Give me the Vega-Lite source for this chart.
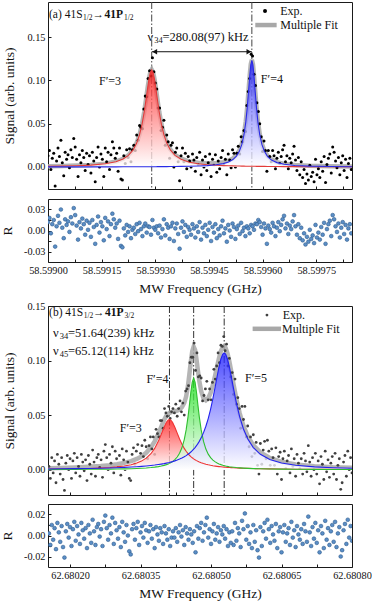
{
"$schema": "https://vega.github.io/schema/vega-lite/v6.json",
"background": "white",
"padding": {"left": 0, "top": 1, "right": 0, "bottom": 0},
"config": {
  "font": "Liberation Serif, Times New Roman, serif",
  "view": {"stroke": "#1a1a1a", "strokeWidth": 1},
  "axis": {"grid": false, "domain": false, "ticks": true, "tickColor": "#1a1a1a", "tickSize": -3, "tickWidth": 1, "labelFont": "Liberation Serif, Times New Roman, serif", "labelFontSize": 10.3, "labelColor": "#111", "labelPadding": 6, "labelOverlap": false, "labelFlush": false, "titleFont": "Liberation Serif, Times New Roman, serif", "titleFontSize": 13.5, "titleFontWeight": "normal", "titleColor": "#111"},
  "text": {"font": "Liberation Serif, Times New Roman, serif", "fontSize": 12, "color": "#111"}
},
"datasets": {
"expA": [
{"f":58.599000,"s":0.013,"r":0.012},{"f":58.599004,"s":0.019,"r":0.018},{"f":58.599008,"s":-0.003,"r":-0.004},{"f":58.599012,"s":0.010,"r":0.009},{"f":58.599016,"s":0.016,"r":0.015},{"f":58.599020,"s":-0.022,"r":-0.023},{"f":58.599024,"s":0.007,"r":0.006},{"f":58.599028,"s":0.022,"r":0.021},{"f":58.599032,"s":0.012,"r":0.011},{"f":58.599036,"s":0.031,"r":0.030},
{"f":58.599040,"s":0.005,"r":0.004},{"f":58.599044,"s":-0.010,"r":-0.011},{"f":58.599048,"s":0.017,"r":0.016},{"f":58.599052,"s":0.009,"r":0.008},{"f":58.599056,"s":0.014,"r":0.013},{"f":58.599060,"s":-0.001,"r":-0.002},{"f":58.599064,"s":0.020,"r":0.019},{"f":58.599068,"s":0.011,"r":0.010},{"f":58.599072,"s":0.033,"r":0.032},{"f":58.599076,"s":0.023,"r":0.022},
{"f":58.599080,"s":0.009,"r":0.007},{"f":58.599084,"s":-0.011,"r":-0.013},{"f":58.599088,"s":0.014,"r":0.012},{"f":58.599092,"s":0.005,"r":0.003},{"f":58.599096,"s":0.019,"r":0.017},{"f":58.599100,"s":0.011,"r":0.009},{"f":58.599104,"s":-0.004,"r":-0.006},{"f":58.599108,"s":0.016,"r":0.014},{"f":58.599112,"s":0.003,"r":0.001},{"f":58.599116,"s":0.013,"r":0.011},
{"f":58.599120,"s":-0.007,"r":-0.009},{"f":58.599124,"s":0.017,"r":0.015},{"f":58.599128,"s":0.007,"r":0.005},{"f":58.599132,"s":-0.017,"r":-0.019},{"f":58.599136,"s":0.011,"r":0.008},{"f":58.599140,"s":0.023,"r":0.020},{"f":58.599144,"s":0.000,"r":-0.003},{"f":58.599148,"s":0.015,"r":0.012},{"f":58.599152,"s":0.009,"r":0.006},{"f":58.599156,"s":-0.011,"r":-0.014},
{"f":58.599160,"s":0.022,"r":0.018},{"f":58.599164,"s":0.006,"r":0.002},{"f":58.599168,"s":0.017,"r":0.013},{"f":58.599172,"s":-0.003,"r":-0.008},{"f":58.599176,"s":0.014,"r":0.009},{"f":58.599180,"s":0.029,"r":0.024},{"f":58.599184,"s":0.022,"r":0.016},{"f":58.599188,"s":0.010,"r":0.004},{"f":58.599192,"s":0.016,"r":0.010},{"f":58.599196,"s":-0.005,"r":-0.012},
{"f":58.599200,"s":0.022,"r":0.014},{"f":58.599204,"s":-0.014,"r":-0.022},{"f":58.599208,"s":-0.015,"r":-0.024},{"f":58.599212,"s":0.013,"r":0.003},{"f":58.599216,"s":0.004,"r":-0.007},{"f":58.599220,"s":0.020,"r":0.008},{"f":58.599224,"s":0.011,"r":-0.002},{"f":58.599228,"s":0.021,"r":0.006},{"f":58.599232,"s":0.006,"r":-0.011},{"f":58.599236,"s":0.020,"r":0.001},
{"f":58.599240,"s":0.025,"r":0.004},{"f":58.599244,"s":0.019,"r":-0.005},{"f":58.599248,"s":0.037,"r":0.009},{"f":58.599252,"s":0.031,"r":-0.001},{"f":58.599256,"s":0.048,"r":0.011},{"f":58.599260,"s":0.046,"r":0.002},{"f":58.599264,"s":0.044,"r":-0.008},{"f":58.599268,"s":0.067,"r":0.006},{"f":58.599272,"s":0.082,"r":0.010},{"f":58.599276,"s":0.081,"r":-0.003},
{"f":58.599280,"s":0.102,"r":0.006},{"f":58.599284,"s":0.111,"r":0.005},{"f":58.599288,"s":0.105,"r":-0.006},{"f":58.599292,"s":0.126,"r":0.015},{"f":58.599296,"s":0.110,"r":0.004},{"f":58.599300,"s":0.097,"r":0.001},{"f":58.599304,"s":0.090,"r":0.006},{"f":58.599308,"s":0.068,"r":-0.004},{"f":58.599312,"s":0.068,"r":0.007},{"f":58.599316,"s":0.042,"r":-0.010},
{"f":58.599320,"s":0.046,"r":0.002},{"f":58.599324,"s":0.054,"r":0.016},{"f":58.599328,"s":0.025,"r":-0.007},{"f":58.599332,"s":0.037,"r":0.009},{"f":58.599336,"s":0.029,"r":0.004},{"f":58.599340,"s":0.010,"r":-0.012},{"f":58.599344,"s":0.025,"r":0.006},{"f":58.599348,"s":0.028,"r":0.011},{"f":58.599352,"s":0.000,"r":-0.015},{"f":58.599356,"s":0.017,"r":0.003},
{"f":58.599360,"s":0.022,"r":0.010},{"f":58.599364,"s":0.006,"r":-0.005},{"f":58.599368,"s":-0.016,"r":-0.026},{"f":58.599372,"s":0.013,"r":0.004},{"f":58.599376,"s":0.022,"r":0.013},{"f":58.599380,"s":0.006,"r":-0.002},{"f":58.599384,"s":0.016,"r":0.008},{"f":58.599388,"s":-0.002,"r":-0.009},{"f":58.599392,"s":0.012,"r":0.005},{"f":58.599396,"s":0.007,"r":0.001},
{"f":58.599400,"s":0.000,"r":-0.006},{"f":58.599404,"s":0.015,"r":0.009},{"f":58.599408,"s":0.008,"r":0.003},{"f":58.599412,"s":-0.005,"r":-0.010},{"f":58.599416,"s":0.011,"r":0.006},{"f":58.599420,"s":0.003,"r":-0.002},{"f":58.599424,"s":0.017,"r":0.012},{"f":58.599428,"s":-0.009,"r":-0.013},{"f":58.599432,"s":0.008,"r":0.004},{"f":58.599436,"s":0.000,"r":-0.004},
{"f":58.599440,"s":0.012,"r":0.008},{"f":58.599444,"s":-0.004,"r":-0.008},{"f":58.599448,"s":0.005,"r":0.001},{"f":58.599452,"s":0.015,"r":0.011},{"f":58.599456,"s":-0.011,"r":-0.015},{"f":58.599460,"s":0.009,"r":0.005},{"f":58.599464,"s":0.002,"r":-0.003},{"f":58.599468,"s":0.014,"r":0.009},{"f":58.599472,"s":-0.006,"r":-0.011},{"f":58.599476,"s":0.007,"r":0.002},
{"f":58.599480,"s":-0.002,"r":-0.007},{"f":58.599484,"s":0.011,"r":0.006},{"f":58.599488,"s":0.019,"r":0.014},{"f":58.599492,"s":0.002,"r":-0.004},{"f":58.599496,"s":0.009,"r":0.003},{"f":58.599500,"s":-0.009,"r":-0.016},{"f":58.599504,"s":0.015,"r":0.008},{"f":58.599508,"s":0.008,"r":0.000},{"f":58.599512,"s":-0.001,"r":-0.009},{"f":58.599516,"s":0.020,"r":0.010},
{"f":58.599520,"s":0.016,"r":0.005},{"f":58.599524,"s":0.000,"r":-0.012},{"f":58.599528,"s":0.016,"r":0.002},{"f":58.599532,"s":0.024,"r":0.007},{"f":58.599536,"s":0.015,"r":-0.005},{"f":58.599540,"s":0.035,"r":0.011},{"f":58.599544,"s":0.029,"r":-0.001},{"f":58.599548,"s":0.042,"r":0.004},{"f":58.599552,"s":0.041,"r":-0.008},{"f":58.599556,"s":0.071,"r":0.006},
{"f":58.599560,"s":0.087,"r":0.003},{"f":58.599564,"s":0.102,"r":-0.004},{"f":58.599568,"s":0.130,"r":0.008},{"f":58.599572,"s":0.128,"r":0.006},{"f":58.599576,"s":0.107,"r":0.001},{"f":58.599580,"s":0.094,"r":0.010},{"f":58.599584,"s":0.074,"r":0.009},{"f":58.599588,"s":0.064,"r":0.015},{"f":58.599592,"s":0.050,"r":0.012},{"f":58.599596,"s":0.035,"r":0.005},
{"f":58.599600,"s":0.018,"r":-0.006},{"f":58.599604,"s":0.030,"r":0.010},{"f":58.599608,"s":0.019,"r":0.003},{"f":58.599612,"s":-0.005,"r":-0.019},{"f":58.599616,"s":0.019,"r":0.007},{"f":58.599620,"s":0.012,"r":0.002},{"f":58.599624,"s":0.006,"r":-0.003},{"f":58.599628,"s":0.019,"r":0.011},{"f":58.599632,"s":0.013,"r":0.006},{"f":58.599636,"s":-0.002,"r":-0.008},
{"f":58.599640,"s":0.010,"r":0.004},{"f":58.599644,"s":0.017,"r":0.012},{"f":58.599648,"s":0.004,"r":-0.001},{"f":58.599652,"s":0.012,"r":0.008},{"f":58.599656,"s":0.020,"r":0.016},{"f":58.599660,"s":0.025,"r":0.021},{"f":58.599664,"s":0.006,"r":0.003},{"f":58.599668,"s":0.013,"r":0.010},{"f":58.599672,"s":-0.002,"r":-0.005},{"f":58.599676,"s":0.010,"r":0.007},
{"f":58.599680,"s":0.005,"r":0.002},{"f":58.599684,"s":0.015,"r":0.013},{"f":58.599688,"s":0.024,"r":0.022},{"f":58.599692,"s":0.008,"r":0.006},{"f":58.599696,"s":-0.004,"r":-0.006},{"f":58.599700,"s":0.011,"r":0.009},{"f":58.599704,"s":-0.009,"r":-0.011},{"f":58.599708,"s":0.006,"r":0.004},{"f":58.599712,"s":-0.012,"r":-0.014},{"f":58.599716,"s":-0.003,"r":-0.004},
{"f":58.599720,"s":-0.019,"r":-0.020},{"f":58.599724,"s":-0.008,"r":-0.009},{"f":58.599728,"s":-0.015,"r":-0.016},{"f":58.599732,"s":0.002,"r":0.001},{"f":58.599736,"s":-0.011,"r":-0.012},{"f":58.599740,"s":-0.006,"r":-0.007},{"f":58.599744,"s":-0.017,"r":-0.018},{"f":58.599748,"s":0.009,"r":0.008},{"f":58.599752,"s":-0.009,"r":-0.010},{"f":58.599756,"s":-0.002,"r":-0.003},
{"f":58.599760,"s":-0.012,"r":-0.013},{"f":58.599764,"s":0.006,"r":0.005},{"f":58.599768,"s":-0.005,"r":-0.006},{"f":58.599772,"s":0.012,"r":0.011},{"f":58.599776,"s":-0.018,"r":-0.019},{"f":58.599780,"s":0.003,"r":0.002},{"f":58.599784,"s":0.010,"r":0.009},{"f":58.599788,"s":0.015,"r":0.014},{"f":58.599792,"s":-0.007,"r":-0.008},{"f":58.599796,"s":0.023,"r":0.022},
{"f":58.599800,"s":0.017,"r":0.016},{"f":58.599804,"s":0.007,"r":0.006},{"f":58.599808,"s":-0.001,"r":-0.002},{"f":58.599812,"s":0.011,"r":0.010},{"f":58.599816,"s":-0.009,"r":-0.010},{"f":58.599820,"s":0.005,"r":0.004},{"f":58.599824,"s":0.013,"r":0.012},{"f":58.599828,"s":-0.004,"r":-0.005},{"f":58.599832,"s":0.009,"r":0.008},{"f":58.599836,"s":-0.012,"r":-0.013},
{"f":58.599840,"s":0.004,"r":0.003},{"f":58.599844,"s":0.010,"r":0.009},{"f":58.599848,"s":-0.003,"r":-0.004}
],
"fitA": [
{"f":58.599000,"F3":0.00076,"F4":0.00008,"fit":0.0008},{"f":58.599040,"F3":0.00102,"F4":0.00009,"fit":0.0011},{"f":58.599080,"F3":0.00144,"F4":0.00011,"fit":0.0016},{"f":58.599120,"F3":0.00219,"F4":0.00013,"fit":0.0023},{"f":58.599160,"F3":0.00369,"F4":0.00015,"fit":0.0038},{"f":58.599190,"F3":0.0061,"F4":0.00018,"fit":0.0063},{"f":58.599210,"F3":0.00925,"F4":0.0002,"fit":0.0095},{"f":58.599225,"F3":0.01344,"F4":0.00022,"fit":0.0137},{"f":58.599238,"F3":0.01967,"F4":0.00023,"fit":0.0199},{"f":58.599248,"F3":0.02757,"F4":0.00025,"fit":0.0278},
{"f":58.599256,"F3":0.03725,"F4":0.00026,"fit":0.0375},{"f":58.599263,"F3":0.04943,"F4":0.00027,"fit":0.0497},{"f":58.599269,"F3":0.06343,"F4":0.00028,"fit":0.0637},{"f":58.599274,"F3":0.07754,"F4":0.00029,"fit":0.0778},{"f":58.599278,"F3":0.0896,"F4":0.0003,"fit":0.0899},{"f":58.599282,"F3":0.1008,"F4":0.0003,"fit":0.1011},{"f":58.599286,"F3":0.10897,"F4":0.0003,"fit":0.1093},{"f":58.599290,"F3":0.112,"F4":0.00033,"fit":0.1123},{"f":58.599294,"F3":0.10897,"F4":0.00034,"fit":0.1093},{"f":58.599298,"F3":0.1008,"F4":0.00035,"fit":0.1012},
{"f":58.599302,"F3":0.0896,"F4":0.00036,"fit":0.0900},{"f":58.599306,"F3":0.07754,"F4":0.00037,"fit":0.0779},{"f":58.599311,"F3":0.06343,"F4":0.00038,"fit":0.0638},{"f":58.599317,"F3":0.04943,"F4":0.0004,"fit":0.0498},{"f":58.599324,"F3":0.03725,"F4":0.00043,"fit":0.0377},{"f":58.599332,"F3":0.02757,"F4":0.00045,"fit":0.0280},{"f":58.599342,"F3":0.01967,"F4":0.0005,"fit":0.0202},{"f":58.599355,"F3":0.01344,"F4":0.00056,"fit":0.0140},{"f":58.599372,"F3":0.00884,"F4":0.00066,"fit":0.0095},{"f":58.599395,"F3":0.00556,"F4":0.00084,"fit":0.0064},
{"f":58.599420,"F3":0.00369,"F4":0.00114,"fit":0.0048},{"f":58.599445,"F3":0.00262,"F4":0.00163,"fit":0.0043},{"f":58.599470,"F3":0.00196,"F4":0.00253,"fit":0.0045},{"f":58.599490,"F3":0.00159,"F4":0.00391,"fit":0.0055},{"f":58.599505,"F3":0.00138,"F4":0.00583,"fit":0.0072},{"f":58.599517,"F3":0.00124,"F4":0.00857,"fit":0.0098},{"f":58.599527,"F3":0.00114,"F4":0.01256,"fit":0.0137},{"f":58.599535,"F3":0.00107,"F4":0.01802,"fit":0.0191},{"f":58.599542,"F3":0.00101,"F4":0.02601,"fit":0.0270},{"f":58.599548,"F3":0.00097,"F4":0.03725,"fit":0.0382},
{"f":58.599553,"F3":0.00093,"F4":0.0518,"fit":0.0527},{"f":58.599557,"F3":0.0009,"F4":0.06819,"fit":0.0691},{"f":58.599561,"F3":0.00088,"F4":0.08879,"fit":0.0897},{"f":58.599564,"F3":0.00087,"F4":0.10502,"fit":0.1059},{"f":58.599567,"F3":0.00085,"F4":0.11795,"fit":0.1188},{"f":58.599570,"F3":0.00082,"F4":0.123,"fit":0.1238},{"f":58.599573,"F3":0.0008,"F4":0.11795,"fit":0.1188},{"f":58.599576,"F3":0.00079,"F4":0.10502,"fit":0.1058},{"f":58.599579,"F3":0.00078,"F4":0.08879,"fit":0.0896},{"f":58.599583,"F3":0.00076,"F4":0.06819,"fit":0.0690},
{"f":58.599587,"F3":0.00075,"F4":0.0518,"fit":0.0526},{"f":58.599592,"F3":0.00075,"F4":0.03725,"fit":0.0380},{"f":58.599598,"F3":0.00072,"F4":0.02601,"fit":0.0267},{"f":58.599605,"F3":0.0007,"F4":0.01802,"fit":0.0187},{"f":58.599614,"F3":0.00061,"F4":0.01205,"fit":0.0127},{"f":58.599625,"F3":0.00057,"F4":0.00799,"fit":0.0086},{"f":58.599640,"F3":0.00052,"F4":0.00506,"fit":0.0056},{"f":58.599660,"F3":0.00047,"F4":0.00311,"fit":0.0036},{"f":58.599690,"F3":0.0004,"F4":0.00177,"fit":0.0022},{"f":58.599730,"F3":0.00033,"F4":0.001,"fit":0.0013},
{"f":58.599790,"F3":0.00026,"F4":0.00053,"fit":0.0008},{"f":58.599850,"F3":0.00021,"F4":0.00033,"fit":0.0005}
],
"expB": [
{"f":62.680155,"s":0.003,"r":0.002},{"f":62.680158,"s":-0.008,"r":-0.009},{"f":62.680161,"s":0.011,"r":0.010},{"f":62.680164,"s":-0.003,"r":-0.004},{"f":62.680167,"s":0.008,"r":0.007},{"f":62.680170,"s":-0.012,"r":-0.013},{"f":62.680173,"s":0.014,"r":0.012},{"f":62.680176,"s":0.005,"r":0.003},{"f":62.680179,"s":-0.004,"r":-0.006},{"f":62.680182,"s":0.011,"r":0.009},
{"f":62.680185,"s":-0.009,"r":-0.011},{"f":62.680188,"s":-0.019,"r":-0.021},{"f":62.680191,"s":0.006,"r":0.004},{"f":62.680194,"s":0.013,"r":0.011},{"f":62.680197,"s":0.000,"r":-0.002},{"f":62.680200,"s":0.010,"r":0.008},{"f":62.680203,"s":-0.008,"r":-0.010},{"f":62.680206,"s":0.008,"r":0.006},{"f":62.680209,"s":0.015,"r":0.013},{"f":62.680212,"s":-0.003,"r":-0.005},
{"f":62.680215,"s":0.011,"r":0.009},{"f":62.680218,"s":0.003,"r":0.001},{"f":62.680221,"s":-0.006,"r":-0.008},{"f":62.680224,"s":0.014,"r":0.012},{"f":62.680227,"s":0.007,"r":0.005},{"f":62.680230,"s":-0.001,"r":-0.003},{"f":62.680233,"s":0.009,"r":0.007},{"f":62.680236,"s":-0.010,"r":-0.012},{"f":62.680239,"s":0.013,"r":0.010},{"f":62.680242,"s":0.005,"r":0.002},
{"f":62.680245,"s":-0.004,"r":-0.007},{"f":62.680248,"s":0.018,"r":0.015},{"f":62.680251,"s":0.007,"r":0.004},{"f":62.680254,"s":-0.006,"r":-0.009},{"f":62.680257,"s":0.011,"r":0.008},{"f":62.680260,"s":0.014,"r":0.011},{"f":62.680263,"s":0.002,"r":-0.001},{"f":62.680266,"s":0.009,"r":0.006},{"f":62.680269,"s":-0.007,"r":-0.010},{"f":62.680272,"s":0.017,"r":0.013},
{"f":62.680275,"s":0.023,"r":0.019},{"f":62.680278,"s":0.011,"r":0.007},{"f":62.680281,"s":0.000,"r":-0.004},{"f":62.680284,"s":0.014,"r":0.010},{"f":62.680287,"s":0.006,"r":0.002},{"f":62.680290,"s":0.021,"r":0.017},{"f":62.680293,"s":-0.003,"r":-0.008},{"f":62.680296,"s":0.017,"r":0.012},{"f":62.680299,"s":0.010,"r":0.005},{"f":62.680302,"s":0.002,"r":-0.003},
{"f":62.680305,"s":0.013,"r":0.008},{"f":62.680308,"s":-0.005,"r":-0.011},{"f":62.680311,"s":0.019,"r":0.013},{"f":62.680314,"s":0.009,"r":0.003},{"f":62.680317,"s":0.000,"r":-0.006},{"f":62.680320,"s":0.017,"r":0.010},{"f":62.680323,"s":0.007,"r":0.000},{"f":62.680326,"s":-0.008,"r":-0.015},{"f":62.680329,"s":-0.010,"r":-0.018},{"f":62.680332,"s":0.014,"r":0.006},
{"f":62.680335,"s":0.020,"r":0.011},{"f":62.680338,"s":0.005,"r":-0.004},{"f":62.680341,"s":0.017,"r":0.007},{"f":62.680344,"s":0.023,"r":0.013},{"f":62.680347,"s":0.002,"r":-0.009},{"f":62.680350,"s":0.015,"r":0.003},{"f":62.680353,"s":0.022,"r":0.009},{"f":62.680356,"s":0.012,"r":-0.002},{"f":62.680359,"s":0.027,"r":0.012},{"f":62.680362,"s":0.021,"r":0.005},
{"f":62.680365,"s":0.010,"r":-0.007},{"f":62.680368,"s":0.022,"r":0.004},{"f":62.680371,"s":0.030,"r":0.010},{"f":62.680374,"s":0.019,"r":-0.003},{"f":62.680377,"s":0.030,"r":0.006},{"f":62.680380,"s":0.014,"r":-0.012},{"f":62.680383,"s":0.037,"r":0.008},{"f":62.680386,"s":0.033,"r":0.001},{"f":62.680389,"s":0.030,"r":-0.005},{"f":62.680392,"s":0.045,"r":0.007},
{"f":62.680395,"s":0.045,"r":0.003},{"f":62.680398,"s":0.038,"r":-0.008},{"f":62.680401,"s":0.056,"r":0.009},{"f":62.680404,"s":0.052,"r":0.002},{"f":62.680407,"s":0.049,"r":-0.004},{"f":62.680410,"s":0.058,"r":0.006},{"f":62.680413,"s":0.047,"r":-0.010},{"f":62.680416,"s":0.053,"r":-0.002},{"f":62.680419,"s":0.056,"r":0.004},{"f":62.680422,"s":0.052,"r":-0.002},
{"f":62.680425,"s":0.060,"r":0.007},{"f":62.680428,"s":0.049,"r":-0.006},{"f":62.680431,"s":0.056,"r":0.003},{"f":62.680434,"s":0.063,"r":0.010},{"f":62.680437,"s":0.053,"r":-0.001},{"f":62.680440,"s":0.061,"r":0.005},{"f":62.680443,"s":0.050,"r":-0.009},{"f":62.680446,"s":0.072,"r":0.008},{"f":62.680449,"s":0.074,"r":0.002},{"f":62.680452,"s":0.077,"r":-0.004},
{"f":62.680455,"s":0.098,"r":0.006},{"f":62.680458,"s":0.103,"r":0.001},{"f":62.680461,"s":0.103,"r":-0.007},{"f":62.680464,"s":0.116,"r":0.004},{"f":62.680467,"s":0.091,"r":-0.016},{"f":62.680470,"s":0.107,"r":0.009},{"f":62.680473,"s":0.085,"r":-0.003},{"f":62.680476,"s":0.086,"r":0.007},{"f":62.680479,"s":0.084,"r":0.012},{"f":62.680482,"s":0.063,"r":-0.005},
{"f":62.680485,"s":0.068,"r":0.003},{"f":62.680488,"s":0.074,"r":0.010},{"f":62.680491,"s":0.081,"r":0.017},{"f":62.680494,"s":0.064,"r":-0.002},{"f":62.680497,"s":0.074,"r":0.006},{"f":62.680500,"s":0.064,"r":-0.008},{"f":62.680503,"s":0.080,"r":0.004},{"f":62.680506,"s":0.092,"r":0.011},{"f":62.680509,"s":0.083,"r":-0.004},{"f":62.680512,"s":0.095,"r":0.002},
{"f":62.680515,"s":0.107,"r":0.008},{"f":62.680518,"s":0.098,"r":-0.006},{"f":62.680521,"s":0.114,"r":0.005},{"f":62.680524,"s":0.113,"r":0.001},{"f":62.680527,"s":0.122,"r":0.009},{"f":62.680530,"s":0.109,"r":-0.003},{"f":62.680533,"s":0.115,"r":0.006},{"f":62.680536,"s":0.095,"r":-0.010},{"f":62.680539,"s":0.102,"r":0.003},{"f":62.680542,"s":0.085,"r":-0.007},
{"f":62.680545,"s":0.089,"r":0.004},{"f":62.680548,"s":0.069,"r":-0.009},{"f":62.680551,"s":0.083,"r":0.012},{"f":62.680554,"s":0.060,"r":-0.005},{"f":62.680557,"s":0.066,"r":0.007},{"f":62.680560,"s":0.056,"r":0.002},{"f":62.680563,"s":0.038,"r":-0.011},{"f":62.680566,"s":0.058,"r":0.014},{"f":62.680569,"s":0.046,"r":0.006},{"f":62.680572,"s":0.058,"r":0.021},
{"f":62.680575,"s":0.030,"r":-0.004},{"f":62.680578,"s":0.040,"r":0.009},{"f":62.680581,"s":0.021,"r":-0.008},{"f":62.680584,"s":0.030,"r":0.003},{"f":62.680587,"s":0.012,"r":-0.012},{"f":62.680590,"s":0.032,"r":0.010},{"f":62.680593,"s":0.015,"r":-0.006},{"f":62.680596,"s":0.025,"r":0.005},{"f":62.680599,"s":0.004,"r":-0.014},{"f":62.680602,"s":-0.004,"r":-0.021},
{"f":62.680605,"s":0.024,"r":0.008},{"f":62.680608,"s":0.005,"r":-0.010},{"f":62.680611,"s":0.018,"r":0.004},{"f":62.680614,"s":0.026,"r":0.012},{"f":62.680617,"s":0.010,"r":-0.003},{"f":62.680620,"s":0.027,"r":0.015},{"f":62.680623,"s":0.017,"r":0.006},{"f":62.680626,"s":0.004,"r":-0.007},{"f":62.680629,"s":0.019,"r":0.009},{"f":62.680632,"s":0.011,"r":0.001},
{"f":62.680635,"s":0.004,"r":-0.005},{"f":62.680638,"s":0.020,"r":0.011},{"f":62.680641,"s":-0.004,"r":-0.012},{"f":62.680644,"s":0.012,"r":0.004},{"f":62.680647,"s":0.016,"r":0.008},{"f":62.680650,"s":-0.009,"r":-0.016},{"f":62.680653,"s":0.010,"r":0.003},{"f":62.680656,"s":0.017,"r":0.010},{"f":62.680659,"s":0.001,"r":-0.006},{"f":62.680662,"s":0.008,"r":0.002},
{"f":62.680665,"s":0.013,"r":0.007},{"f":62.680668,"s":-0.003,"r":-0.009},{"f":62.680671,"s":0.019,"r":0.013},{"f":62.680674,"s":0.003,"r":-0.002},{"f":62.680677,"s":0.010,"r":0.005},{"f":62.680680,"s":-0.006,"r":-0.011},{"f":62.680683,"s":0.014,"r":0.009},{"f":62.680686,"s":0.006,"r":0.001},{"f":62.680689,"s":0.001,"r":-0.004},{"f":62.680692,"s":0.010,"r":0.006},
{"f":62.680695,"s":-0.004,"r":-0.008},{"f":62.680698,"s":0.015,"r":0.011},{"f":62.680701,"s":0.008,"r":0.004},{"f":62.680704,"s":-0.002,"r":-0.006},{"f":62.680707,"s":0.022,"r":0.018},{"f":62.680710,"s":0.007,"r":0.003},{"f":62.680713,"s":-0.006,"r":-0.010},{"f":62.680716,"s":0.011,"r":0.008},{"f":62.680719,"s":0.000,"r":-0.003},{"f":62.680722,"s":0.015,"r":0.012},
{"f":62.680725,"s":-0.004,"r":-0.007},{"f":62.680728,"s":0.008,"r":0.005},{"f":62.680731,"s":-0.013,"r":-0.016},{"f":62.680734,"s":0.012,"r":0.009},{"f":62.680737,"s":0.005,"r":0.002},{"f":62.680740,"s":-0.009,"r":-0.012},{"f":62.680743,"s":0.017,"r":0.014},{"f":62.680746,"s":-0.002,"r":-0.004},{"f":62.680749,"s":0.009,"r":0.007},{"f":62.680752,"s":-0.007,"r":-0.009},
{"f":62.680755,"s":0.006,"r":0.004},{"f":62.680758,"s":0.012,"r":0.010},{"f":62.680761,"s":-0.004,"r":-0.006},{"f":62.680764,"s":0.015,"r":0.013},{"f":62.680767,"s":-0.009,"r":-0.011},{"f":62.680770,"s":0.004,"r":0.002},{"f":62.680773,"s":0.010,"r":0.008},{"f":62.680776,"s":-0.018,"r":-0.020},{"f":62.680779,"s":-0.012,"r":-0.014},{"f":62.680782,"s":0.007,"r":0.005},
{"f":62.680785,"s":0.013,"r":0.011},{"f":62.680788,"s":-0.006,"r":-0.008},{"f":62.680791,"s":0.017,"r":0.015},{"f":62.680794,"s":0.000,"r":-0.002},{"f":62.680797,"s":0.011,"r":0.009},{"f":62.680800,"s":-0.003,"r":-0.005}
],
"fitB": [
{"f":62.680153,"F3":0.0005,"F4":0.00017,"F5":0.00068,"fit":0.0013},{"f":62.680180,"F3":0.00062,"F4":0.0002,"F5":0.00079,"fit":0.0016},{"f":62.680210,"F3":0.00081,"F4":0.00026,"F5":0.00094,"fit":0.0020},{"f":62.680240,"F3":0.00111,"F4":0.00033,"F5":0.00115,"fit":0.0026},{"f":62.680265,"F3":0.00151,"F4":0.00042,"F5":0.00137,"fit":0.0033},{"f":62.680285,"F3":0.0020,"F4":0.00052,"F5":0.0016,"fit":0.0041},{"f":62.680300,"F3":0.00255,"F4":0.00061,"F5":0.00182,"fit":0.0050},{"f":62.680315,"F3":0.00334,"F4":0.00074,"F5":0.00208,"fit":0.0062},{"f":62.680330,"F3":0.00455,"F4":0.00092,"F5":0.0024,"fit":0.0079},{"f":62.680342,"F3":0.00603,"F4":0.00111,"F5":0.00271,"fit":0.0099},
{"f":62.680352,"F3":0.00786,"F4":0.00132,"F5":0.00302,"fit":0.0122},{"f":62.680362,"F3":0.01055,"F4":0.00158,"F5":0.00338,"fit":0.0155},{"f":62.680372,"F3":0.01465,"F4":0.00194,"F5":0.00382,"fit":0.0204},{"f":62.680380,"F3":0.01948,"F4":0.00232,"F5":0.00422,"fit":0.0260},{"f":62.680388,"F3":0.02617,"F4":0.00283,"F5":0.0047,"fit":0.0330},{"f":62.680394,"F3":0.0324,"F4":0.00332,"F5":0.00511,"fit":0.0392},{"f":62.680400,"F3":0.03894,"F4":0.00395,"F5":0.00557,"fit":0.0455},{"f":62.680405,"F3":0.04348,"F4":0.00463,"F5":0.00601,"fit":0.0495},{"f":62.680409,"F3":0.0456,"F4":0.00529,"F5":0.0064,"fit":0.0513},{"f":62.6804115,"F3":0.046,"F4":0.00578,"F5":0.00665,"fit":0.0520},
{"f":62.680414,"F3":0.0456,"F4":0.00634,"F5":0.00693,"fit":0.0525},{"f":62.680418,"F3":0.04348,"F4":0.00741,"F5":0.00741,"fit":0.0531},{"f":62.680423,"F3":0.03894,"F4":0.00917,"F5":0.00808,"fit":0.0536},{"f":62.680428,"F3":0.03349,"F4":0.01159,"F5":0.00884,"fit":0.0541},{"f":62.680433,"F3":0.02815,"F4":0.01502,"F5":0.0097,"fit":0.0550},{"f":62.680438,"F3":0.02343,"F4":0.02005,"F5":0.0107,"fit":0.0572},{"f":62.680443,"F3":0.01948,"F4":0.02762,"F5":0.01185,"fit":0.0612},{"f":62.680447,"F3":0.01686,"F4":0.03643,"F5":0.01291,"fit":0.0670},{"f":62.680451,"F3":0.01465,"F4":0.04842,"F5":0.0141,"fit":0.0772},{"f":62.680454,"F3":0.01323,"F4":0.05944,"F5":0.0151,"fit":0.0878},
{"f":62.680457,"F3":0.01198,"F4":0.07096,"F5":0.01621,"fit":0.0992},{"f":62.680460,"F3":0.01088,"F4":0.08031,"F5":0.01743,"fit":0.1086},{"f":62.680463,"F3":0.00992,"F4":0.084,"F5":0.01879,"fit":0.1127},{"f":62.680466,"F3":0.00907,"F4":0.08031,"F5":0.0203,"fit":0.1097},{"f":62.680469,"F3":0.00831,"F4":0.07096,"F5":0.02198,"fit":0.1012},{"f":62.680472,"F3":0.00764,"F4":0.05944,"F5":0.02386,"fit":0.0909},{"f":62.680475,"F3":0.00704,"F4":0.04842,"F5":0.02596,"fit":0.0814},{"f":62.680479,"F3":0.00634,"F4":0.03643,"F5":0.02917,"fit":0.0719},{"f":62.680484,"F3":0.0056,"F4":0.02585,"F5":0.03396,"fit":0.0654},{"f":62.680489,"F3":0.00498,"F4":0.01888,"F5":0.03978,"fit":0.0636},
{"f":62.680494,"F3":0.00445,"F4":0.01423,"F5":0.04685,"fit":0.0655},{"f":62.680499,"F3":0.004,"F4":0.01104,"F5":0.05531,"fit":0.0704},{"f":62.680504,"F3":0.00361,"F4":0.00877,"F5":0.06524,"fit":0.0776},{"f":62.680509,"F3":0.00328,"F4":0.00712,"F5":0.07637,"fit":0.0868},{"f":62.680513,"F3":0.00304,"F4":0.0061,"F5":0.0856,"fit":0.0947},{"f":62.680517,"F3":0.00283,"F4":0.00529,"F5":0.09432,"fit":0.1024},{"f":62.680521,"F3":0.00264,"F4":0.00463,"F5":0.10148,"fit":0.1088},{"f":62.680525,"F3":0.00246,"F4":0.00408,"F5":0.10594,"fit":0.1125},{"f":62.680528,"F3":0.00234,"F4":0.00372,"F5":0.107,"fit":0.1131},{"f":62.680531,"F3":0.00223,"F4":0.00342,"F5":0.10594,"fit":0.1116},
{"f":62.680535,"F3":0.0021,"F4":0.00306,"F5":0.10148,"fit":0.1066},{"f":62.680539,"F3":0.00197,"F4":0.00276,"F5":0.09432,"fit":0.0991},{"f":62.680543,"F3":0.00186,"F4":0.0025,"F5":0.0856,"fit":0.0900},{"f":62.680548,"F3":0.00173,"F4":0.00222,"F5":0.07408,"fit":0.0780},{"f":62.680554,"F3":0.00159,"F4":0.00194,"F5":0.0611,"fit":0.0646},{"f":62.680561,"F3":0.00145,"F4":0.00168,"F5":0.04842,"fit":0.0516},{"f":62.680569,"F3":0.00131,"F4":0.00144,"F5":0.03731,"fit":0.0401},{"f":62.680578,"F3":0.00118,"F4":0.00123,"F5":0.02832,"fit":0.0307},{"f":62.680590,"F3":0.00103,"F4":0.00101,"F5":0.0203,"fit":0.0223},{"f":62.680605,"F3":0.00088,"F4":0.00081,"F5":0.0141,"fit":0.0158},
{"f":62.680625,"F3":0.00072,"F4":0.00062,"F5":0.00934,"fit":0.0107},{"f":62.680650,"F3":0.00058,"F4":0.00047,"F5":0.0061,"fit":0.0072},{"f":62.680680,"F3":0.00046,"F4":0.00035,"F5":0.00401,"fit":0.0048},{"f":62.680720,"F3":0.00035,"F4":0.00025,"F5":0.00255,"fit":0.0032},{"f":62.680760,"F3":0.00027,"F4":0.00019,"F5":0.00176,"fit":0.0022},{"f":62.680800,"F3":0.00022,"F4":0.00015,"F5":0.00129,"fit":0.0017}
]
},
"spacing": 4,
"vconcat": [
{
"spacing": 8,
"vconcat": [
{
"width": 304, "height": 187,
"encoding": {"x": {"field": "f", "type": "quantitative", "scale": {"domain": [58.599, 58.59985], "nice": false, "zero": false}, "axis": {"title": null, "labels": false, "values": [58.599, 58.599075, 58.59915, 58.599225, 58.5993, 58.599375, 58.59945, 58.599525, 58.5996, 58.599675, 58.59975, 58.599825]}}},
"layer": [
{"data": {"values": [{"f": 58.59929}, {"f": 58.59957}]}, "mark": {"type": "rule", "color": "#444", "strokeWidth": 1, "strokeDash": [7, 2, 1.5, 2]}, "encoding": {}},
{"data": {"name": "fitA"}, "mark": {"type": "line", "color": "#a8a8a8", "strokeWidth": 4.5, "opacity": 0.85, "clip": true},
 "encoding": {"y": {"field": "fit", "type": "quantitative", "scale": {"domain": [-0.0254, 0.1904], "nice": false, "zero": false}, "axis": {"title": "Signal (arb. units)", "titlePadding": 10, "values": [0, 0.025, 0.05, 0.075, 0.1, 0.125, 0.15, 0.175], "labelExpr": "round(datum.value*1000) % 50 == 0 ? format(datum.value, '.2f') : ''"}}}},
{"data": {"name": "expA"}, "mark": {"type": "circle", "color": "#000", "size": 9, "opacity": 1, "clip": true},
 "encoding": {"y": {"field": "s", "type": "quantitative", "scale": {"domain": [-0.0254, 0.1904], "nice": false, "zero": false}}}},
{"data": {"name": "fitA"}, "mark": {"type": "area", "opacity": 0.78, "clip": true, "color": {"gradient": "linear", "x1": 0, "y1": 0, "x2": 0, "y2": 1, "stops": [{"offset": 0, "color": "#ff1212"}, {"offset": 1, "color": "#ffffff"}]}},
 "encoding": {"y": {"field": "F3", "type": "quantitative", "scale": {"domain": [-0.0254, 0.1904], "nice": false, "zero": false}}, "y2": {"datum": 0}}},
{"data": {"name": "fitA"}, "mark": {"type": "area", "opacity": 0.78, "clip": true, "color": {"gradient": "linear", "x1": 0, "y1": 0, "x2": 0, "y2": 1, "stops": [{"offset": 0, "color": "#1a1aff"}, {"offset": 1, "color": "#ffffff"}]}},
 "encoding": {"y": {"field": "F4", "type": "quantitative", "scale": {"domain": [-0.0254, 0.1904], "nice": false, "zero": false}}, "y2": {"datum": 0}}},
{"data": {"name": "fitA"}, "mark": {"type": "line", "color": "#e23a3a", "strokeWidth": 1.1, "clip": true},
 "encoding": {"y": {"field": "F3", "type": "quantitative", "scale": {"domain": [-0.0254, 0.1904], "nice": false, "zero": false}}}},
{"data": {"name": "fitA"}, "mark": {"type": "line", "color": "#2a2ae6", "strokeWidth": 1.1, "clip": true},
 "encoding": {"y": {"field": "F4", "type": "quantitative", "scale": {"domain": [-0.0254, 0.1904], "nice": false, "zero": false}}}},
{"data": {"values": [{"f": 58.59929, "f2": 58.59957, "v": 0.133}]}, "mark": {"type": "rule", "color": "#111", "strokeWidth": 1},
 "encoding": {"x2": {"field": "f2"}, "y": {"field": "v", "type": "quantitative", "scale": {"domain": [-0.0254, 0.1904], "nice": false, "zero": false}}}},
{"data": {"values": [{"f": 58.5992984, "v": 0.133}]}, "mark": {"type": "point", "shape": "triangle-left", "filled": true, "color": "#111", "size": 30, "opacity": 1},
 "encoding": {"y": {"field": "v", "type": "quantitative", "scale": {"domain": [-0.0254, 0.1904], "nice": false, "zero": false}}}},
{"data": {"values": [{"f": 58.5995616, "v": 0.133}]}, "mark": {"type": "point", "shape": "triangle-right", "filled": true, "color": "#111", "size": 30, "opacity": 1},
 "encoding": {"y": {"field": "v", "type": "quantitative", "scale": {"domain": [-0.0254, 0.1904], "nice": false, "zero": false}}}},
{"data": {"values": [{"f": 58.5990028, "v": 0.1754}]},
 "encoding": {"y": {"field": "v", "type": "quantitative", "scale": {"domain": [-0.0254, 0.1904], "nice": false, "zero": false}}},
 "layer": [
  {"mark": {"type": "text", "align": "left", "baseline": "middle", "fontSize": 11.5, "text": "(a) 41S"}, "encoding": {}},
  {"mark": {"type": "text", "align": "left", "baseline": "middle", "fontSize": 7.5, "dx": 34, "dy": 3, "text": "1/2"}, "encoding": {}},
  {"mark": {"type": "text", "align": "left", "baseline": "middle", "fontSize": 11.5, "dx": 43.5, "text": "→"}, "encoding": {}},
  {"mark": {"type": "text", "align": "left", "baseline": "middle", "fontSize": 11.5, "fontWeight": "bold", "dx": 55.5, "text": "41P"}, "encoding": {}},
  {"mark": {"type": "text", "align": "left", "baseline": "middle", "fontSize": 7.5, "dx": 75, "dy": 3, "text": "1/2"}, "encoding": {}}
 ]},
{"data": {"values": [{"f": 58.599278, "v": 0.150}]},
 "encoding": {"y": {"field": "v", "type": "quantitative", "scale": {"domain": [-0.0254, 0.1904], "nice": false, "zero": false}}},
 "layer": [
  {"mark": {"type": "text", "align": "left", "baseline": "middle", "fontSize": 12.5, "text": "ν"}, "encoding": {}},
  {"mark": {"type": "text", "align": "left", "baseline": "middle", "fontSize": 8.5, "dx": 6.7, "dy": 3, "text": "34"}, "encoding": {}},
  {"mark": {"type": "text", "align": "left", "baseline": "middle", "fontSize": 12.5, "dx": 15, "text": "=280.08(97) kHz"}, "encoding": {}}
 ]},
{"data": {"values": [{"f": 58.5991735, "v": 0.0992, "t": "F′=3"}, {"f": 58.599626, "v": 0.1015, "t": "F′=4"}]}, "mark": {"type": "text", "align": "center", "baseline": "middle", "fontSize": 12},
 "encoding": {"y": {"field": "v", "type": "quantitative", "scale": {"domain": [-0.0254, 0.1904], "nice": false, "zero": false}}, "text": {"field": "t"}}},
{"data": {"values": [{"f": 58.5996068, "v": 0.180}]}, "mark": {"type": "circle", "color": "#000", "size": 16, "opacity": 1},
 "encoding": {"y": {"field": "v", "type": "quantitative", "scale": {"domain": [-0.0254, 0.1904], "nice": false, "zero": false}}}},
{"data": {"values": [{"f": 58.5995796, "f2": 58.5996393, "v": 0.1638}]}, "mark": {"type": "rule", "color": "#a8a8a8", "strokeWidth": 4.5},
 "encoding": {"x2": {"field": "f2"}, "y": {"field": "v", "type": "quantitative", "scale": {"domain": [-0.0254, 0.1904], "nice": false, "zero": false}}}},
{"data": {"values": [{"f": 58.5996493, "v": 0.180, "t": "Exp."}, {"f": 58.5996493, "v": 0.1638, "t": "Multiple Fit"}]}, "mark": {"type": "text", "align": "left", "baseline": "middle", "fontSize": 12},
 "encoding": {"y": {"field": "v", "type": "quantitative", "scale": {"domain": [-0.0254, 0.1904], "nice": false, "zero": false}}, "text": {"field": "t"}}}
]
},
{
"width": 304, "height": 63,
"data": {"name": "expA"},
"mark": {"type": "point", "filled": true, "size": 14, "color": "#5b8ec6", "stroke": "#2c5b8d", "strokeWidth": 0.6, "opacity": 1, "clip": true},
"encoding": {
 "x": {"field": "f", "type": "quantitative", "scale": {"domain": [58.599, 58.59985], "nice": false, "zero": false}, "axis": {"title": "MW Frequency (GHz)", "titlePadding": 6, "values": [58.599, 58.599075, 58.59915, 58.599225, 58.5993, 58.599375, 58.59945, 58.599525, 58.5996, 58.599675, 58.59975, 58.599825], "labelExpr": "abs(round(datum.value*1e6) % 150) < 1 ? format(datum.value, '.5f') : ''"}},
 "y": {"field": "r", "type": "quantitative", "scale": {"domain": [-0.045, 0.045], "nice": false, "zero": false}, "axis": {"title": "R", "titlePadding": 9, "values": [-0.03, -0.015, 0, 0.015, 0.03], "labelExpr": "round(datum.value*1000) % 30 == 0 ? replace(format(datum.value, '.2f'), '\u2212', '-') : ''"}}
}
}
]
},
{
"spacing": 7,
"vconcat": [
{
"width": 304, "height": 189,
"encoding": {"x": {"field": "f", "type": "quantitative", "scale": {"domain": [62.680153, 62.6808], "nice": false, "zero": false}, "axis": {"title": null, "labels": false, "values": [62.6802, 62.680275, 62.68035, 62.680425, 62.6805, 62.680575, 62.68065, 62.680725, 62.6808]}}},
"layer": [
{"data": {"values": [{"f": 62.6804115}, {"f": 62.680463}, {"f": 62.680528}]}, "mark": {"type": "rule", "color": "#333", "strokeWidth": 1, "strokeDash": [7, 2, 1.5, 2]}, "encoding": {}},
{"data": {"name": "fitB"}, "mark": {"type": "line", "color": "#a8a8a8", "strokeWidth": 4.5, "opacity": 0.85, "clip": true},
 "encoding": {"y": {"field": "fit", "type": "quantitative", "scale": {"domain": [-0.0232, 0.15], "nice": false, "zero": false}, "axis": {"title": "Signal (arb. units)", "titlePadding": 10, "values": [0, 0.025, 0.05, 0.075, 0.1, 0.125, 0.15], "labelExpr": "round(datum.value*1000) % 50 == 0 ? format(datum.value, '.2f') : ''"}}}},
{"data": {"name": "expB"}, "mark": {"type": "circle", "color": "#404040", "size": 8, "opacity": 1, "clip": true},
 "encoding": {"y": {"field": "s", "type": "quantitative", "scale": {"domain": [-0.0232, 0.15], "nice": false, "zero": false}}}},
{"data": {"name": "fitB"}, "mark": {"type": "area", "opacity": 0.78, "clip": true, "color": {"gradient": "linear", "x1": 0, "y1": 0, "x2": 0, "y2": 1, "stops": [{"offset": 0, "color": "#ff1212"}, {"offset": 1, "color": "#ffffff"}]}},
 "encoding": {"y": {"field": "F3", "type": "quantitative", "scale": {"domain": [-0.0232, 0.15], "nice": false, "zero": false}}, "y2": {"datum": 0}}},
{"data": {"name": "fitB"}, "mark": {"type": "area", "opacity": 0.78, "clip": true, "color": {"gradient": "linear", "x1": 0, "y1": 0, "x2": 0, "y2": 1, "stops": [{"offset": 0, "color": "#12e012"}, {"offset": 1, "color": "#ffffff"}]}},
 "encoding": {"y": {"field": "F4", "type": "quantitative", "scale": {"domain": [-0.0232, 0.15], "nice": false, "zero": false}}, "y2": {"datum": 0}}},
{"data": {"name": "fitB"}, "mark": {"type": "area", "opacity": 0.78, "clip": true, "color": {"gradient": "linear", "x1": 0, "y1": 0, "x2": 0, "y2": 1, "stops": [{"offset": 0, "color": "#1a1aff"}, {"offset": 1, "color": "#ffffff"}]}},
 "encoding": {"y": {"field": "F5", "type": "quantitative", "scale": {"domain": [-0.0232, 0.15], "nice": false, "zero": false}}, "y2": {"datum": 0}}},
{"data": {"name": "fitB"}, "mark": {"type": "line", "color": "#ee3333", "strokeWidth": 1.1, "clip": true},
 "encoding": {"y": {"field": "F3", "type": "quantitative", "scale": {"domain": [-0.0232, 0.15], "nice": false, "zero": false}}}},
{"data": {"name": "fitB"}, "mark": {"type": "line", "color": "#2fbf2f", "strokeWidth": 1.1, "clip": true},
 "encoding": {"y": {"field": "F4", "type": "quantitative", "scale": {"domain": [-0.0232, 0.15], "nice": false, "zero": false}}}},
{"data": {"name": "fitB"}, "mark": {"type": "line", "color": "#2222ee", "strokeWidth": 1.1, "clip": true},
 "encoding": {"y": {"field": "F5", "type": "quantitative", "scale": {"domain": [-0.0232, 0.15], "nice": false, "zero": false}}}},
{"data": {"values": [{"f": 62.6801553, "v": 0.1433}]},
 "encoding": {"y": {"field": "v", "type": "quantitative", "scale": {"domain": [-0.0232, 0.15], "nice": false, "zero": false}}},
 "layer": [
  {"mark": {"type": "text", "align": "left", "baseline": "middle", "fontSize": 11.5, "text": "(b) 41S"}, "encoding": {}},
  {"mark": {"type": "text", "align": "left", "baseline": "middle", "fontSize": 7.5, "dx": 34.6, "dy": 3, "text": "1/2"}, "encoding": {}},
  {"mark": {"type": "text", "align": "left", "baseline": "middle", "fontSize": 11.5, "dx": 44, "text": "→"}, "encoding": {}},
  {"mark": {"type": "text", "align": "left", "baseline": "middle", "fontSize": 11.5, "fontWeight": "bold", "dx": 56, "text": "41P"}, "encoding": {}},
  {"mark": {"type": "text", "align": "left", "baseline": "middle", "fontSize": 7.5, "dx": 75.5, "dy": 3, "text": "3/2"}, "encoding": {}}
 ]},
{"data": {"values": [{"f": 62.6801638, "v": 0.1252, "t": "34", "u": "=51.64(239) kHz"}, {"f": 62.6801638, "v": 0.1087, "t": "45", "u": "=65.12(114) kHz"}]},
 "encoding": {"y": {"field": "v", "type": "quantitative", "scale": {"domain": [-0.0232, 0.15], "nice": false, "zero": false}}},
 "layer": [
  {"mark": {"type": "text", "align": "left", "baseline": "middle", "fontSize": 12.5, "text": "ν"}, "encoding": {}},
  {"mark": {"type": "text", "align": "left", "baseline": "middle", "fontSize": 8.5, "dx": 6.7, "dy": 3}, "encoding": {"text": {"field": "t"}}},
  {"mark": {"type": "text", "align": "left", "baseline": "middle", "fontSize": 12.5, "dx": 15}, "encoding": {"text": {"field": "u"}}}
 ]},
{"data": {"values": [{"f": 62.680386, "v": 0.0833, "t": "F′=4"}, {"f": 62.6803293, "v": 0.0382, "t": "F′=3"}, {"f": 62.6805957, "v": 0.084, "t": "F′=5"}]}, "mark": {"type": "text", "align": "center", "baseline": "middle", "fontSize": 12},
 "encoding": {"y": {"field": "v", "type": "quantitative", "scale": {"domain": [-0.0232, 0.15], "nice": false, "zero": false}}, "text": {"field": "t"}}},
{"data": {"values": [{"f": 62.680619, "v": 0.1417}]}, "mark": {"type": "circle", "color": "#404040", "size": 8, "opacity": 1},
 "encoding": {"y": {"field": "v", "type": "quantitative", "scale": {"domain": [-0.0232, 0.15], "nice": false, "zero": false}}}},
{"data": {"values": [{"f": 62.6805885, "f2": 62.680649, "v": 0.1291}]}, "mark": {"type": "rule", "color": "#a8a8a8", "strokeWidth": 4.5},
 "encoding": {"x2": {"field": "f2"}, "y": {"field": "v", "type": "quantitative", "scale": {"domain": [-0.0232, 0.15], "nice": false, "zero": false}}}},
{"data": {"values": [{"f": 62.6806524, "v": 0.1417, "t": "Exp."}, {"f": 62.680651, "v": 0.1291, "t": "Multiple Fit"}]}, "mark": {"type": "text", "align": "left", "baseline": "middle", "fontSize": 12},
 "encoding": {"y": {"field": "v", "type": "quantitative", "scale": {"domain": [-0.0232, 0.15], "nice": false, "zero": false}}, "text": {"field": "t"}}}
]
},
{
"width": 304, "height": 63,
"data": {"name": "expB"},
"mark": {"type": "point", "filled": true, "size": 14, "color": "#5b8ec6", "stroke": "#2c5b8d", "strokeWidth": 0.6, "opacity": 1, "clip": true},
"encoding": {
 "x": {"field": "f", "type": "quantitative", "scale": {"domain": [62.680153, 62.6808], "nice": false, "zero": false}, "axis": {"title": "MW Frequency (GHz)", "titlePadding": 6, "values": [62.6802, 62.680275, 62.68035, 62.680425, 62.6805, 62.680575, 62.68065, 62.680725, 62.6808], "labelExpr": "abs(round(datum.value*1e6) % 150) < 1 ? format(datum.value, '.5f') : ''"}},
 "y": {"field": "r", "type": "quantitative", "scale": {"domain": [-0.03, 0.03], "nice": false, "zero": false}, "axis": {"title": "R", "titlePadding": 9, "values": [-0.02, -0.01, 0, 0.01, 0.02], "labelExpr": "round(datum.value*1000) % 20 == 0 ? replace(format(datum.value, '.2f'), '\u2212', '-') : ''"}}
}
}
]
}
]
}
